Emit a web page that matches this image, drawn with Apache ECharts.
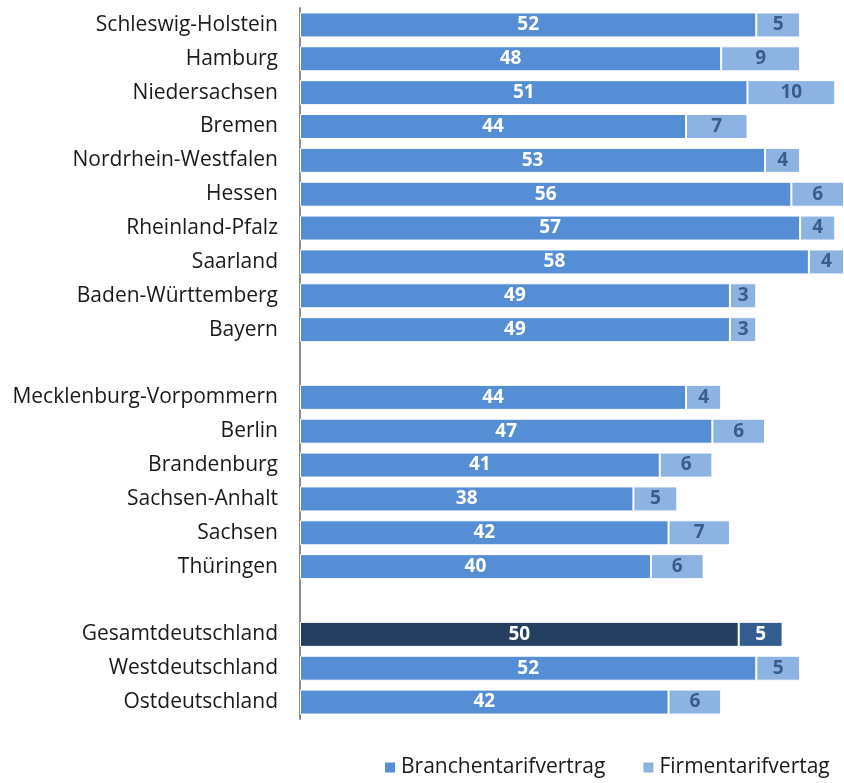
<!DOCTYPE html>
<html>
<head>
<meta charset="UTF-8">
<title>Tarifbindung</title>
<script src="https://cdn.jsdelivr.net/npm/echarts@6/dist/echarts.min.js"></script>
<style>
  html, body { margin: 0; padding: 0; background: #fff; }
  #chart { width: 844px; height: 783px; }
</style>
</head>
<body>
<div id="chart"></div>
<script>
// Kategorien (leere Einträge = Lücken zwischen den Gruppen)
var laender = ['Schleswig-Holstein', 'Hamburg', 'Niedersachsen', 'Bremen', 'Nordrhein-Westfalen',
  'Hessen', 'Rheinland-Pfalz', 'Saarland', 'Baden-Württemberg', 'Bayern', '',
  'Mecklenburg-Vorpommern', 'Berlin', 'Brandenburg', 'Sachsen-Anhalt', 'Sachsen', 'Thüringen', '',
  'Gesamtdeutschland', 'Westdeutschland', 'Ostdeutschland'];
var branche = [52, 48, 51, 44, 53, 56, 57, 58, 49, 49, '-', 44, 47, 41, 38, 42, 40, '-', 50, 52, 42];
var firma   = [5, 9, 10, 7, 4, 6, 4, 4, 3, 3, '-', 4, 6, 6, 5, 7, 6, '-', 5, 5, 6];

var gesamtIdx = laender.indexOf('Gesamtdeutschland');

function mkData(arr, normal, dark) {
  return arr.map(function (v, i) {
    if (i === gesamtIdx) {
      return { value: v, itemStyle: { color: dark }, label: { color: '#fff' } };
    }
    return { value: v, itemStyle: { color: normal } };
  });
}

var myChart = echarts.init(document.getElementById('chart'));
var option = {
  animation: false,
  textStyle: { fontFamily: 'Open Sans, Liberation Sans, sans-serif' },
  grid: { left: 300, right: -2, top: 8, bottom: 64, containLabel: false },
  xAxis: {
    type: 'value', min: 0, max: 62, show: false
  },
  yAxis: {
    type: 'category',
    data: laender,
    inverse: true,
    axisLine: { show: true, lineStyle: { color: '#8c8c8c', width: 2 } },
    axisTick: { show: false },
    axisLabel: { color: '#1a1a1a', fontSize: 21, margin: 22 }
  },
  legend: {
    bottom: 0, left: 378,
    icon: 'rect', itemWidth: 12, itemHeight: 12, itemGap: 36,
    textStyle: { fontSize: 21, color: '#1a1a1a' },
    data: ['Branchentarifvertrag', 'Firmentarifvertag']
  },
  series: [
    {
      name: 'Branchentarifvertrag',
      type: 'bar',
      stack: 'ges',
      barWidth: 25,
      color: '#558ed5',
      itemStyle: { borderColor: '#fff', borderWidth: 1 },
      label: { show: true, position: 'inside', color: '#fff', fontSize: 19, fontWeight: 'bold' },
      data: mkData(branche, '#558ed5', '#243f60')
    },
    {
      name: 'Firmentarifvertag',
      type: 'bar',
      stack: 'ges',
      barWidth: 25,
      color: '#8db3e2',
      itemStyle: { borderColor: '#fff', borderWidth: 1 },
      label: { show: true, position: 'inside', color: '#3a5d8f', fontSize: 19, fontWeight: 'bold' },
      data: mkData(firma, '#8db3e2', '#335d90')
    }
  ]
};
myChart.setOption(option);
</script>
</body>
</html>
